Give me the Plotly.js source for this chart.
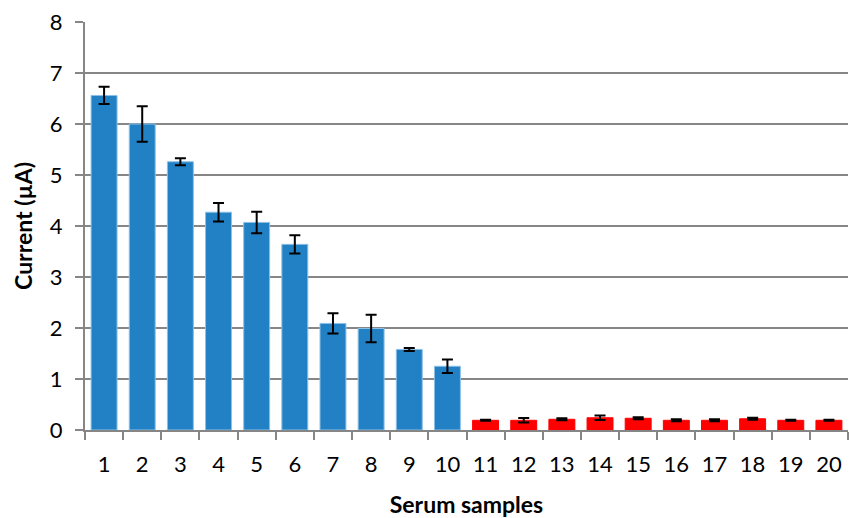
<!DOCTYPE html>
<html>
<head>
<meta charset="utf-8">
<script src="https://cdn.plot.ly/plotly-3.0.1.min.js"></script>
<style>html,body{margin:0;padding:0;background:#fff}#chart{width:849px;height:518px}</style>
</head>
<body>
<div id="chart"></div>
<script>
const samples = ["1","2","3","4","5","6","7","8","9","10","11","12","13","14","15","16","17","18","19","20"];
const current = [6.56,6.00,5.26,4.27,4.07,3.64,2.09,1.99,1.58,1.25,0.19,0.19,0.21,0.24,0.23,0.19,0.19,0.22,0.19,0.19];
const errors = [0.17,0.35,0.07,0.18,0.21,0.18,0.20,0.27,0.03,0.13,0.01,0.045,0.02,0.045,0.02,0.02,0.02,0.02,0.01,0.01];
const group = ["A","A","A","A","A","A","A","A","A","A","B","B","B","B","B","B","B","B","B","B"];
const palette = {A:"#2281C4", B:"#FF0000"};
const lineCol = {A:"#8DC0E6", B:"#FF0000"};

const trace = {
  type: "bar",
  x: samples,
  y: current,
  marker: {color: group.map(g => palette[g]), line: {color: group.map(g => lineCol[g]), width: 1}},
  error_y: {type: "data", array: errors, visible: true, color: "#000", thickness: 2, width: 5.5},
  width: 0.68,
  hoverinfo: "x+y"
};

const layout = {
  width: 849, height: 518,
  margin: {l: 85, r: 1, t: 22, b: 88},
  paper_bgcolor: "#fff", plot_bgcolor: "#fff",
  font: {family: "Lato, 'Open Sans', sans-serif", color: "#000", size: 22},
  showlegend: false,
  xaxis: {
    type: "category",
    tickson: "boundaries",
    ticks: "outside", ticklen: 8, tickwidth: 2, tickcolor: "#868686",
    showline: true, linecolor: "#868686", linewidth: 2,
    showgrid: false,
    ticklabelstandoff: 14,
    tickfont: {size: 22, color: "#000"},
    title: {text: "<b>Serum samples</b>", font: {size: 23}, standoff: 20}
  },
  yaxis: {
    range: [0, 8], dtick: 1,
    ticks: "outside", ticklen: 8, tickwidth: 2, tickcolor: "#868686",
    showline: true, linecolor: "#868686", linewidth: 2,
    showgrid: true, gridcolor: "#868686", gridwidth: 2,
    zeroline: false,
    ticklabelstandoff: 8,
    tickfont: {size: 22, color: "#000"},
    title: {text: "<b>Current (µA)</b>", font: {size: 23}, standoff: 11}
  }
};

Plotly.newPlot("chart", [trace], layout, {displayModeBar: false, staticPlot: true});
</script>
</body>
</html>
